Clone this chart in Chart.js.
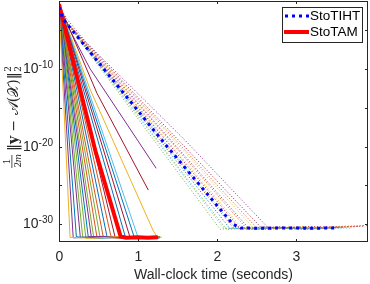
<!DOCTYPE html>
<html>
<head>
<meta charset="utf-8">
<script src="https://cdn.jsdelivr.net/npm/chart.js@4.4.1/dist/chart.umd.min.js"></script>
<style>
  html, body { margin: 0; padding: 0; background: #fff; }
  #wrap { width: 370px; height: 284px; position: relative; }
</style>
</head>
<body>
<div id="wrap"><canvas id="chart"></canvas></div>
<script>
// MATLAB default colour order
const C = {
  blue: "#0072BD", orange: "#D95319", yellow: "#EDB120", purple: "#7E2F8E",
  green: "#77AC30", lightblue: "#4DBEEE", darkred: "#A2142F"
};

const xTicks = [0, 1, 2, 3];
const yTickLabels = [1e-10, 1e-20, 1e-30];
const yTickMarks = [1e-5, 1e-10, 1e-15, 1e-20, 1e-25, 1e-30];

// averaged curves
const avgTihtTimes  = [0, 0.05, 0.57, 1.37, 2.2, 2.3, 2.6, 2.9, 3.2, 3.53];
const avgTihtValues = [1e-2, 3e-4, 1e-10, 1e-20, 1e-30, 3.2e-31, 3.0e-31, 3.3e-31, 3.0e-31, 3.2e-31];
const avgTamTimes   = [0, 0.46, 0.78, 0.85, 1.0, 1.12, 1.25];
const avgTamValues  = [2.5e-2, 3e-21, 2.5e-32, 1.8e-32, 2.0e-32, 1.8e-32, 2.0e-32];

// individual StoTAM runs (solid)
const tamColors = [C.yellow, C.purple, C.blue, C.purple, C.green, C.green, C.blue, C.purple,
  C.green, C.orange, C.green, C.orange, C.blue, C.orange, C.darkred, C.blue, C.darkred,
  C.blue, C.lightblue, C.yellow, C.darkred, C.purple];
const tamTimes = [
  [0, 0.14, 0.42, 0.78, 1.02, 1.22],
  [0, 0.18, 0.47, 0.82, 1.06, 1.25],
  [0, 0.22, 0.51, 0.86, 1.10, 1.23],
  [0, 0.27, 0.55, 0.90, 1.12, 1.26],
  [0, 0.30, 0.58, 0.88, 1.08, 1.24],
  [0, 0.34, 0.60, 0.92, 1.14, 1.27],
  [0, 0.37, 0.64, 0.95, 1.15, 1.25],
  [0, 0.41, 0.68, 0.97, 1.13, 1.23],
  [0, 0.44, 0.70, 0.99, 1.16, 1.26],
  [0, 0.48, 0.74, 1.01, 1.18, 1.28],
  [0, 0.52, 0.77, 1.03, 1.17, 1.25],
  [0, 0.56, 0.80, 1.05, 1.19, 1.27],
  [0, 0.61, 0.84, 1.06, 1.20, 1.26],
  [0, 0.66, 0.88, 1.09, 1.21, 1.28],
  [0, 0.71, 0.91, 1.10, 1.22, 1.27],
  [0, 0.84, 0.98, 1.12, 1.24],
  [0, 0.90, 1.02, 1.15, 1.26],
  [0, 0.95, 1.06, 1.18, 1.27],
  [0, 1.00, 1.12, 1.21, 1.28],
  [0, 0.39, 1.19, 1.24, 1.30],
  [0, 0.48, 1.13],
  [0, 0.10, 0.39, 1.23]
];
const tamValues = [
  [3e-2, 2.0e-32, 1.5e-32, 2.6e-32, 1.8e-32, 2.2e-32],
  [2.5e-2, 1.7e-32, 2.4e-32, 1.6e-32, 2.5e-32, 1.9e-32],
  [3e-2, 2.3e-32, 1.6e-32, 2.2e-32, 1.7e-32, 2.4e-32],
  [2.5e-2, 1.8e-32, 2.7e-32, 1.9e-32, 2.3e-32, 1.6e-32],
  [3e-2, 2.1e-32, 1.7e-32, 2.5e-32, 1.6e-32, 2.2e-32],
  [2e-2, 1.6e-32, 2.3e-32, 1.7e-32, 2.6e-32, 2.0e-32],
  [3e-2, 2.4e-32, 1.8e-32, 2.3e-32, 1.9e-32, 1.7e-32],
  [2.5e-2, 1.9e-32, 2.6e-32, 1.6e-32, 2.1e-32, 2.5e-32],
  [3e-2, 1.7e-32, 2.2e-32, 2.7e-32, 1.8e-32, 2.0e-32],
  [2.5e-2, 2.2e-32, 1.6e-32, 2.1e-32, 2.6e-32, 1.8e-32],
  [3e-2, 1.8e-32, 2.5e-32, 1.9e-32, 1.6e-32, 2.3e-32],
  [2e-2, 2.3e-32, 1.9e-32, 2.4e-32, 2.0e-32, 1.7e-32],
  [3e-2, 1.9e-32, 2.2e-32, 1.7e-32, 2.5e-32, 2.1e-32],
  [2.5e-2, 2.1e-32, 1.6e-32, 2.3e-32, 1.9e-32, 2.4e-32],
  [3e-2, 2.0e-32, 2.5e-32, 1.8e-32, 2.2e-32, 1.9e-32],
  [2.5e-2, 2.2e-32, 1.7e-32, 2.4e-32, 2.0e-32],
  [3e-2, 1.8e-32, 2.3e-32, 1.9e-32, 2.2e-32],
  [2.5e-2, 2.4e-32, 1.8e-32, 2.1e-32, 1.7e-32],
  [3e-2, 2.0e-32, 2.6e-32, 1.8e-32, 2.3e-32],
  [2.5e-2, 3e-13, 1.6e-31, 2.4e-32, 2.0e-32],
  [2.5e-2, 8e-14, 2.5e-26],
  [2.5e-2, 6e-5, 1.3e-10, 1.6e-23]
];

// individual StoTIHT runs (dotted)
const tihtColors = [C.green, C.lightblue, C.green, C.blue, C.orange, C.lightblue, C.darkred,
  C.yellow, C.orange, C.purple, C.yellow, C.orange, C.darkred, C.purple];
const tihtTimes = [
  [0, 0.06, 2.04, 2.3, 2.6, 2.9, 3.3],
  [0, 0.06, 2.08, 2.4, 2.7, 3.0, 3.45],
  [0, 0.06, 2.12, 2.4, 2.75, 3.1, 3.5],
  [0, 0.06, 2.16, 2.45, 2.8, 3.2, 3.6],
  [0, 0.06, 2.20, 2.5, 2.8, 3.1, 3.55],
  [0, 0.06, 2.24, 2.55, 2.9, 3.3, 3.7],
  [0, 0.06, 2.28, 2.5, 2.8, 3.0, 3.4],
  [0, 0.06, 2.32, 2.6, 2.95, 3.25, 3.65],
  [0, 0.06, 2.36, 2.65, 3.0, 3.4, 3.8],
  [0, 0.06, 2.40, 2.6, 2.9, 3.2, 3.5],
  [0, 0.06, 2.45, 2.7, 3.05, 3.4, 3.75],
  [0, 0.06, 2.50, 2.8, 3.2, 3.5, 3.9],
  [0, 0.06, 2.55, 2.85, 3.15, 3.5, 3.85],
  [0, 0.10, 0.35, 1.60, 2.64, 3.1, 3.6]
];
const tihtValues = [
  [1.6e-2, 3e-4, 2.2e-31, 3.8e-31, 2.0e-31, 3.4e-31, 2.4e-31],
  [1.6e-2, 3e-4, 3.4e-31, 2.1e-31, 4.0e-31, 2.3e-31, 3.2e-31],
  [1.6e-2, 3e-4, 2.0e-31, 3.6e-31, 2.4e-31, 4.2e-31, 2.6e-31],
  [1.6e-2, 3e-4, 3.0e-31, 2.2e-31, 3.9e-31, 2.5e-31, 3.5e-31],
  [1.6e-2, 3e-4, 3.8e-31, 2.4e-31, 3.3e-31, 2.1e-31, 4.0e-31],
  [1.6e-2, 3e-4, 2.5e-31, 4.1e-31, 2.6e-31, 3.7e-31, 3.0e-31],
  [1.6e-2, 3e-4, 3.6e-31, 2.3e-31, 4.3e-31, 2.7e-31, 3.1e-31],
  [1.6e-2, 3e-4, 2.7e-31, 3.9e-31, 2.4e-31, 3.5e-31, 4.2e-31],
  [1.6e-2, 3e-4, 4.0e-31, 2.6e-31, 4.4e-31, 3.2e-31, 5.2e-31],
  [1.6e-2, 3e-4, 3.0e-31, 4.5e-31, 2.8e-31, 4.0e-31, 3.3e-31],
  [1.6e-2, 3e-4, 4.2e-31, 3.0e-31, 4.8e-31, 3.5e-31, 4.6e-31],
  [1.6e-2, 3e-4, 3.5e-31, 4.6e-31, 3.2e-31, 5.0e-31, 6.5e-31],
  [1.6e-2, 3e-4, 4.4e-31, 3.1e-31, 4.9e-31, 4.1e-31, 5.8e-31],
  [1.6e-2, 3e-4, 2.5e-7, 6e-20, 4.0e-31, 3.0e-31, 4.2e-31]
];

function pts(ts, vs) { return ts.map((t, i) => ({ x: t, y: vs[i] })); }

const datasets = [
  { label: "StoTIHT", data: pts(avgTihtTimes, avgTihtValues), borderColor: "#0000FF",
    borderWidth: 3, borderDash: [3, 4], borderCapStyle: "butt" },
  { label: "StoTAM", data: pts(avgTamTimes, avgTamValues), borderColor: "#FF0000", borderWidth: 4 }
];
tamTimes.forEach((ts, i) => datasets.push({
  data: pts(ts, tamValues[i]), borderColor: tamColors[i], borderWidth: 1
}));
tihtTimes.forEach((ts, i) => datasets.push({
  data: pts(ts, tihtValues[i]), borderColor: tihtColors[i], borderWidth: 1, borderDash: [1, 2]
}));

const FONT = '"Liberation Sans", Arial, sans-serif';
const INK = "#262626";

// axes box, ticks, labels and legend in MATLAB style
const frame = {
  id: "frame",
  afterDraw(chart) {
    const { ctx, chartArea: a, scales: { x, y } } = chart;
    ctx.save();
    ctx.strokeStyle = INK;
    ctx.lineWidth = 1;
    ctx.fillStyle = INK;

    const line = (x1, y1, x2, y2) => { ctx.beginPath(); ctx.moveTo(x1, y1); ctx.lineTo(x2, y2); ctx.stroke(); };

    // x ticks
    ctx.font = "14px " + FONT;
    ctx.textAlign = "center";
    ctx.textBaseline = "middle";
    xTicks.forEach(v => {
      const px = Math.round(x.getPixelForValue(v)) + 0.5;
      line(px, a.bottom, px, a.bottom - 3);
      line(px, a.top, px, a.top + 3);
      ctx.fillText(String(v), px, a.bottom + 15);
    });
    ctx.fillText("Wall-clock time (seconds)", (a.left + a.right) / 2, a.bottom + 33);

    // y ticks
    yTickMarks.forEach(v => {
      const py = Math.round(y.getPixelForValue(v)) + 0.5;
      line(a.left, py, a.left + 3, py);
      line(a.right, py, a.right - 3, py);
    });
    ctx.textAlign = "left";
    ctx.textBaseline = "alphabetic";
    yTickLabels.forEach(v => {
      const py = y.getPixelForValue(v);
      const exp = String(Math.round(Math.log10(v)));
      ctx.font = "10px " + FONT;
      const ew = ctx.measureText(exp).width;
      ctx.font = "14px " + FONT;
      const bw = ctx.measureText("10").width;
      const right = a.left - 6;
      ctx.fillText("10", right - ew - bw, py + 4);
      ctx.font = "10px " + FONT;
      ctx.fillText(exp, right - ew, py - 1);
    });

    // y label: 1/(2m) ||y - A(X)||_2^2
    ctx.save();
    ctx.translate(18, 168);
    ctx.rotate(-Math.PI / 2);
    ctx.textAlign = "center";
    ctx.font = '9px "DejaVu Serif"';
    ctx.fillText("1", 6.5, -8);
    ctx.fillRect(0, -6.5, 13, 0.8);
    ctx.textAlign = "left";
    ctx.fillText("2", 0.5, 3);
    ctx.font = 'italic 9px "DejaVu Serif"';
    ctx.fillText("m", 5.5, 3);
    let cx = 17;
    const segs = [
      ["\u2016", '14px "DejaVu Sans"'],
      ["y", 'bold 14px "DejaVu Serif"'],
      [" \u2212 ", '14px "DejaVu Serif"'],
      ["\u{1D49C}", '14px "DejaVu Serif"'],
      ["(", '14px "DejaVu Serif"'],
      ["\u{1D4B3}", '14px "DejaVu Serif"'],
      [")", '14px "DejaVu Serif"'],
      ["\u2016", '14px "DejaVu Sans"']
    ];
    segs.forEach(([t, f]) => {
      ctx.font = f;
      ctx.fillText(t, cx, 0);
      cx += ctx.measureText(t).width;
    });
    ctx.font = '9px "DejaVu Serif"';
    ctx.fillText("2", cx + 0.5, -7);
    ctx.fillText("2", cx + 0.5, 3);
    ctx.restore();

    // axes box
    ctx.strokeRect(a.left + 0.5, a.top + 0.5, a.right - a.left - 1, a.bottom - a.top - 1);

    // legend
    const lx = 282.5, ly = 7.5, lw = 80, lh = 35;
    ctx.fillStyle = "#fff";
    ctx.fillRect(lx, ly, lw, lh);
    ctx.strokeStyle = INK;
    ctx.strokeRect(lx, ly, lw, lh);
    ctx.lineWidth = 3;
    ctx.strokeStyle = "#0000FF";
    ctx.setLineDash([3, 4]);
    line(285, 16, 309, 16);
    ctx.setLineDash([]);
    ctx.lineWidth = 4;
    ctx.strokeStyle = "#FF0000";
    line(284, 32, 309, 32);
    ctx.fillStyle = "#000";
    ctx.font = "13.5px " + FONT;
    ctx.textBaseline = "middle";
    ctx.textAlign = "left";
    ctx.fillText("StoTIHT", 310, 16);
    ctx.fillText("StoTAM", 310, 32);
    ctx.restore();
  }
};

new Chart(document.getElementById("chart"), {
  type: "line",
  data: { datasets },
  options: {
    responsive: true,
    maintainAspectRatio: false,
    animation: false,
    layout: { padding: { left: 59, right: 2, top: 1, bottom: 42 } },
    elements: { line: { tension: 0 }, point: { radius: 0 } },
    plugins: { legend: { display: false }, tooltip: { enabled: false } },
    scales: {
      x: { type: "linear", min: 0, max: 3.91, display: false },
      y: { type: "logarithmic", min: 5e-33, max: 6.3e-2, display: false }
    }
  },
  plugins: [frame]
});
</script>
</body>
</html>
